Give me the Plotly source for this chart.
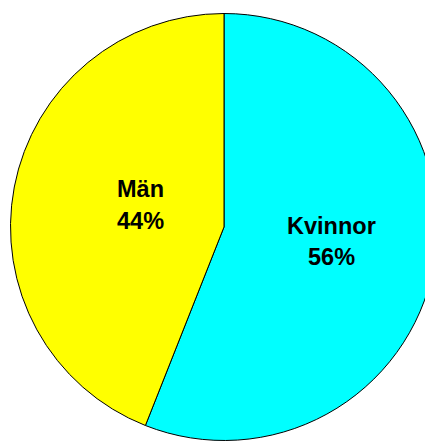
import plotly.graph_objects as go

labels = ["Kvinnor", "Män"]
values = [56, 44]
colors = ["#00FFFF", "#FFFF00"]

W, H = 433, 442
OFF = 8  # page body margin offset
fig = go.Figure()
fig.add_trace(go.Pie(
    labels=labels,
    values=values,
    sort=False,
    direction="clockwise",
    rotation=0,
    marker=dict(colors=colors, line=dict(color="#000000", width=1)),
    textinfo="none",
    hoverinfo="label+percent",
    domain=dict(x=[(10.5 - OFF) / W, (437.5 - OFF) / W],
                y=[(H - (440.5 - OFF)) / H, (H - (13.5 - OFF)) / H]),
    showlegend=False,
))

# label positions (pixel centres)
label_pos = {"Kvinnor": (331.5, 226, 257), "Män": (140, 189, 221)}
total = sum(values)
for lab, val in zip(labels, values):
    cx, y1, y2 = label_pos[lab]
    pct = f"{round(100 * val / total)}%"
    for txt, py in ((lab, y1), (pct, y2)):
        fig.add_annotation(
            x=(cx - OFF) / W, y=1 - (py - OFF) / H, xref="paper", yref="paper",
            text=f"<b>{txt}</b>", showarrow=False,
            font=dict(family="Liberation Sans, Arial, sans-serif", size=23.5, color="#000000"),
            xanchor="center", yanchor="middle",
        )

fig.update_layout(
    width=W, height=H,
    margin=dict(l=0, r=0, t=0, b=0),
    paper_bgcolor="white",
    plot_bgcolor="white",
)
fig.write_html("out.html")
